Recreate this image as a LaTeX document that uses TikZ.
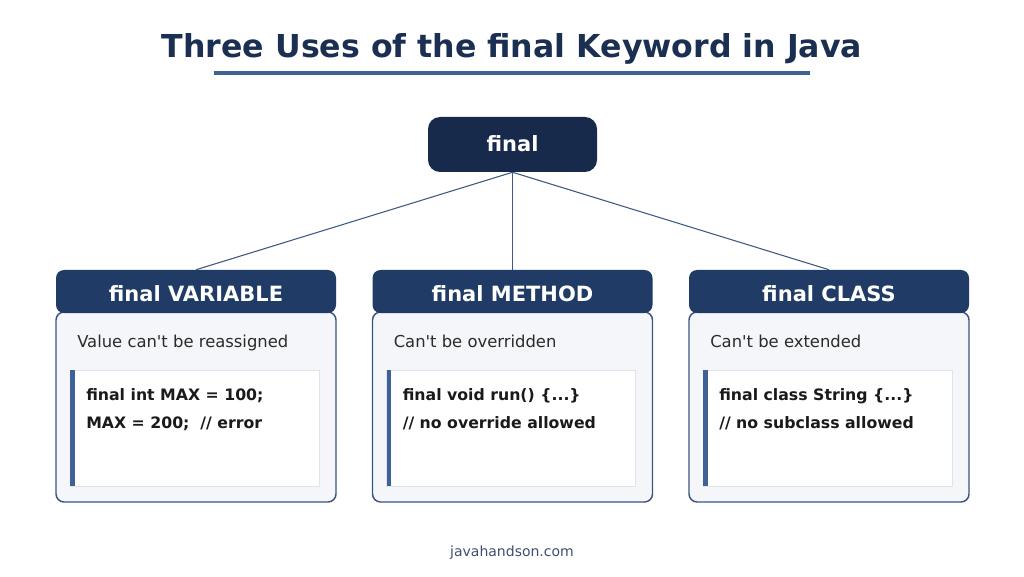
\documentclass[tikz,border=0pt]{standalone}
\usepackage{fontspec}
\setmainfont{DejaVu Sans}[Ligatures=TeXOff]
\definecolor{titlec}{HTML}{1B2F52}
\definecolor{rootc}{HTML}{172A4B}
\definecolor{headc}{HTML}{1F3B66}
\definecolor{linec}{HTML}{3E6196}
\definecolor{connc}{HTML}{3D5A80}
\definecolor{bodyc}{HTML}{F4F6FA}
\definecolor{bodyb}{HTML}{3B5580}
\definecolor{codeb}{HTML}{E0E3E8}
\definecolor{descc}{HTML}{2B2B2B}
\definecolor{codec}{HTML}{1A1A1A}
\definecolor{footc}{HTML}{3D5070}
\tikzset{
  rootbox/.style={fill=rootc, rounded corners=9pt, minimum width=126.75pt, minimum height=41.25pt, inner sep=0pt},
  headbox/.style={fill=headc, rounded corners=6pt, minimum width=210pt, minimum height=32.25pt, inner sep=0pt},
  headtext/.style={anchor=base, text=white, font=\fontsize{15.75pt}{18pt}\bfseries, inner sep=0pt},
  bodybox/.style={fill=bodyc, draw=bodyb, line width=1.1pt, rounded corners=6pt, minimum width=210pt, minimum height=142.5pt, inner sep=0pt},
  codebox/.style={fill=white, draw=codeb, line width=0.6pt, minimum width=186.75pt, minimum height=87pt, inner sep=0pt},
  desctext/.style={anchor=base west, text=descc, font=\fontsize{12.3pt}{14pt}\selectfont, inner sep=0pt},
  codetext/.style={anchor=base west, text=codec, font=\fontsize{11.8pt}{14pt}\bfseries, inner sep=0pt},
  conn/.style={draw=connc, line width=0.8pt},
}
% #1 name, #2 x offset, #3 head, #4 desc, #5 line a, #6 line b
\newcommand\mkpanel[6]{%
  \node[bodybox] (body#1) at (196+#2,407) {};
  \node[headbox] (head#1) at (196+#2,291.5) {};
  \node[headtext] (headt#1) at (196+#2,301) {#3};
  \node[codebox] (code#1) at (194.5+#2,428) {};
  \fill[linec] (70+#2,370) rectangle (74.5+#2,486);
  \node[desctext] (desc#1) at (77+#2,347) {#4};
  \node[codetext] (la#1) at (86+#2,400) {#5};
  \node[codetext] (lb#1) at (86+#2,428) {#6};
}
\begin{document}
\begin{tikzpicture}[x=0.75pt,y=-0.75pt]
\useasboundingbox[fill=white] (0,0) rectangle (1024,577);
\node[anchor=base, inner sep=0pt, text=titlec, font=\fontsize{23.7pt}{27pt}\bfseries] (title) at (512,57.5) {Three Uses of the final Keyword in Java};
\draw[draw=linec, line width=2.3pt] (214,73) -- (810,73);
\node[rootbox] (root) at (512.5,144.5) {};
\node[anchor=base, inner sep=0pt, text=white, font=\fontsize{15.75pt}{18pt}\bfseries] (roott) at (512.5,152) {final};
\mkpanel{v}{0}{final VARIABLE}{Value can't be reassigned}{final int MAX = 100;}{MAX = 200;\ \ // error}
\mkpanel{m}{316.5}{final METHOD}{Can't be overridden}{final void run() \{...\}}{// no override allowed}
\mkpanel{c}{633}{final CLASS}{Can't be extended}{final class String \{...\}}{// no subclass allowed}
\draw[conn] (root.south) -- (headv.north);
\draw[conn] (root.south) -- (headm.north);
\draw[conn] (root.south) -- (headc.north);
\node[text=footc, font=\fontsize{10.5pt}{12pt}\selectfont] (foot) at (512,553) {javahandson.com};
\end{tikzpicture}
\end{document}
